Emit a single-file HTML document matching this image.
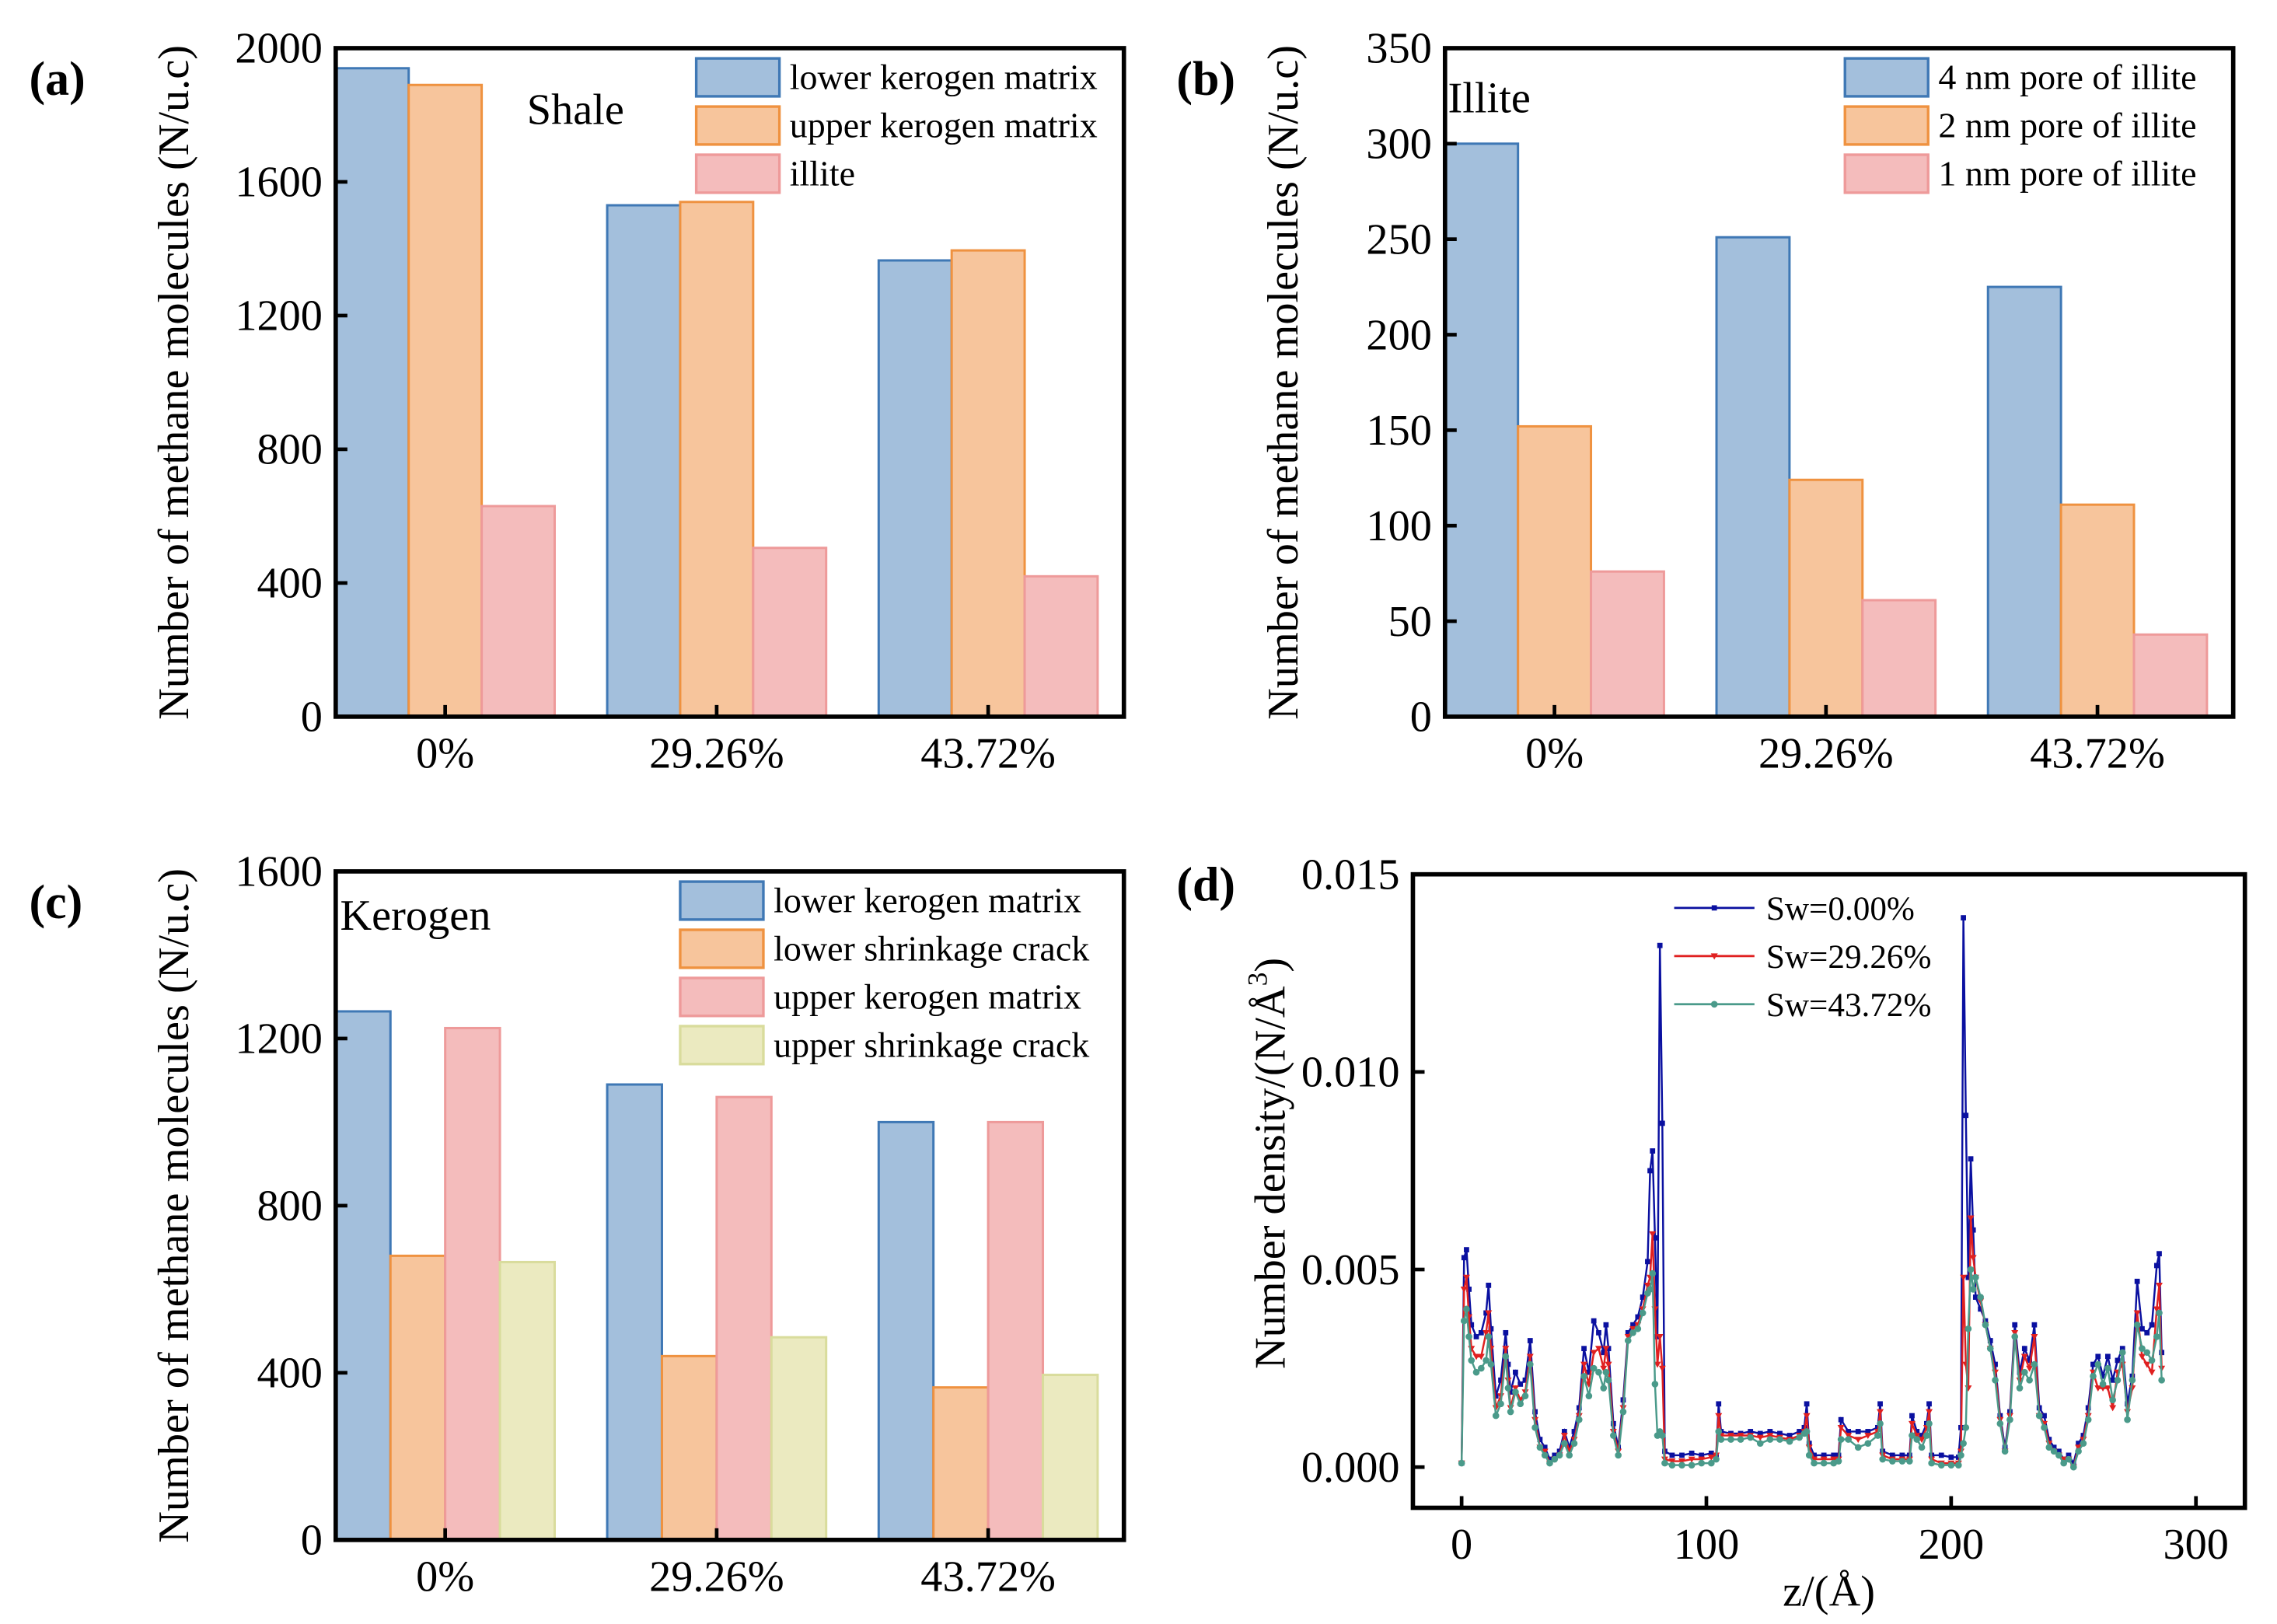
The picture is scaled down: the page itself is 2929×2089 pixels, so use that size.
<!DOCTYPE html>
<html><head><meta charset="utf-8"><style>
html,body{margin:0;padding:0;background:#fff;}
svg{display:block;font-family:"Liberation Serif",serif;}
svg text{font-family:"Liberation Serif",serif;}
</style></head><body>
<svg id="fig" xmlns="http://www.w3.org/2000/svg" width="2929" height="2089" viewBox="0 0 1560 1112.6">
<rect width="1560" height="1112.6" fill="#fff"/>
</svg>
<script>
// ---- Panel data ----
const catLabels = ["0%", "29.26%", "43.72%"];
// (a) Shale
const aLower = [1940, 1530, 1365];
const aUpper = [1890, 1540, 1395];
const aIllite = [630, 505, 420];
const aTicks = [0, 400, 800, 1200, 1600, 2000];
// (b) Illite
const b4nm = [300, 251, 225];
const b2nm = [152, 124, 111];
const b1nm = [76, 61, 43];
const bTicks = [0, 50, 100, 150, 200, 250, 300, 350];
// (c) Kerogen
const cLowerMatrix = [1265, 1090, 1000];
const cLowerCrack = [680, 440, 365];
const cUpperMatrix = [1225, 1060, 1000];
const cUpperCrack = [665, 485, 395];
const cTicks = [0, 400, 800, 1200, 1600];
// (d) density profiles (values x 1e-3 N/Å^3)
const zVals = [0,1,2,3,4,6,8,10,11,12, 14,16,18,19,20,22,24,26,28,30, 32,34,36,38,40,42,44,46,48,50, 52,54,56,58,59,60,62,64,66,68, 70,72,74,76,77,78,79,80,81,82, 83,86,90,94,98,102,104,105,106,110, 114,118,122,126,130,134,138,140,141,142, 144,148,152,154,155,158,162,166,170,171, 172,176,180,183,184,186,188,190,191,192, 196,200,203,204,205,206,207,208,209,210, 212,214,216,218,220,222,224,226,228,230, 232,234,236,238,240,242,244,246,248,250, 252,254,256,258,260,262,264,266,268,270, 272,274,276,278,280,282,284,285,286];
const sw0 = [0.1,5.3,5.5,4.5,3.6,3.3,3.4,3.9,4.6,3.5, 1.8,2.2,3.4,2.6,1.9,2.4,2.1,2.2,3.2,1.4, 0.7,0.5,0.2,0.3,0.4,0.9,0.5,0.9,1.5,3.0, 2.4,3.7,3.4,2.9,3.6,3.0,1.1,0.5,1.7,3.4, 3.6,3.8,4.3,5.2,7.5,8.0,5.8,3.3,13.2,8.7, 0.4,0.3,0.3,0.35,0.3,0.35,0.3,1.6,0.9,0.85, 0.85,0.9,0.85,0.9,0.85,0.8,0.9,1.0,1.6,0.6, 0.3,0.3,0.3,0.3,1.2,0.9,0.9,0.9,1.0,1.6, 0.4,0.3,0.3,0.3,1.3,0.9,0.8,1.1,1.6,0.3, 0.3,0.25,0.25,1.0,13.9,8.9,4.8,7.8,6.0,4.3, 4.0,3.7,3.2,2.6,1.3,0.5,1.4,3.6,2.4,3.0, 2.7,3.6,1.5,1.3,0.7,0.5,0.4,0.2,0.3,0.1, 0.6,0.8,1.5,2.6,2.8,2.3,2.8,2.2,2.7,3.0, 1.6,2.3,4.7,3.5,3.4,3.6,5.1,5.4,2.9];
const sw29 = [0.1,4.5,4.8,3.8,3.0,2.8,2.8,3.4,3.9,3.0, 1.5,1.8,3.0,2.2,1.5,2.0,1.7,1.9,2.8,1.2, 0.5,0.4,0.1,0.2,0.3,0.8,0.4,0.7,1.3,2.6, 2.1,2.9,3.0,2.5,3.0,2.6,0.9,0.4,1.5,3.3, 3.5,3.6,4.0,4.6,4.8,5.9,4.0,2.6,3.3,2.5, 0.2,0.15,0.15,0.2,0.2,0.25,0.3,1.3,0.8,0.8, 0.8,0.8,0.75,0.8,0.75,0.7,0.8,0.9,1.3,0.5, 0.2,0.2,0.2,0.2,1.0,0.8,0.7,0.8,0.9,1.4, 0.3,0.2,0.2,0.2,1.1,0.8,0.7,1.0,1.4,0.2, 0.1,0.1,0.1,0.4,4.8,2.6,2.0,6.3,5.3,4.8, 4.2,3.6,3.0,2.4,1.2,0.4,1.3,3.4,2.2,2.8, 2.5,3.3,1.3,1.1,0.6,0.4,0.3,0.2,0.2,0.0, 0.5,0.7,1.3,2.4,2.0,2.0,2.0,1.5,2.4,2.6, 1.4,2.0,3.9,2.8,2.6,2.4,4.0,4.6,2.5];
const sw43 = [0.1,3.7,4.0,3.3,2.7,2.4,2.5,2.7,3.3,2.6, 1.3,1.6,2.8,2.0,1.4,1.9,1.6,1.8,2.6,1.0, 0.5,0.3,0.1,0.2,0.3,0.6,0.3,0.6,1.2,2.3, 1.8,2.5,2.4,2.0,2.4,2.2,0.8,0.3,1.4,3.2, 3.4,3.5,3.9,4.4,4.5,4.9,2.1,0.8,0.9,0.8, 0.1,0.05,0.05,0.05,0.1,0.1,0.2,0.9,0.7,0.7, 0.7,0.75,0.6,0.7,0.7,0.65,0.75,0.85,0.9,0.3, 0.1,0.1,0.1,0.15,0.7,0.7,0.5,0.6,0.8,1.1, 0.2,0.15,0.15,0.15,0.8,0.7,0.5,0.8,1.1,0.1, 0.05,0.05,0.05,0.3,0.6,1.0,3.5,5.0,4.5,4.8, 4.3,3.6,3.0,2.2,1.1,0.4,1.2,3.3,2.0,2.4, 2.2,2.6,1.3,1.0,0.5,0.4,0.3,0.1,0.2,0.0, 0.4,0.6,1.2,2.3,2.6,2.1,2.5,1.7,2.2,2.9, 1.2,2.2,3.6,3.0,2.9,2.7,3.3,3.9,2.2];
const dYTicks = [0, 5, 10, 15];
const dYTickLabels = ["0.000", "0.005", "0.010", "0.015"];
const dXTicks = [0, 100, 200, 300];

const NS = "http://www.w3.org/2000/svg";
const svg = document.getElementById("fig");
const FF = '"Liberation Serif", serif';
function mk(tag, attrs, parent, text) {
  const e = document.createElementNS(NS, tag);
  for (const k in attrs) e.setAttribute(k, attrs[k]);
  if (tag === "text") e.setAttribute("font-family", FF);
  if (text !== undefined) e.textContent = text;
  (parent || svg).appendChild(e);
  return e;
}
const COL = {
  blue: ["#a3bfdc", "#3f78b5"],
  orange: ["#f7c59c", "#ef9240"],
  pink: ["#f4bcbc", "#ee9a9a"],
  yellow: ["#ebeac0", "#d9dc9c"]
};

function barPanel(o) {
  const g = mk("g", {});
  
  
  const L = o.x0, R = o.x1, T = o.y0, B = o.y1;
  const ys = v => B - (v - o.ymin) / (o.ymax - o.ymin) * (B - T);
  const centers = [305, 491, 677].map(c => c + (L - 230));
  const groupW = 150, bw = groupW / o.series.length;
  o.series.forEach((s, si) => {
    s.vals.forEach((v, ci) => {
      const x = centers[ci] - groupW / 2 + si * bw;
      const r = mk("rect", {x: x, y: ys(v), width: bw, height: B - ys(v), fill: COL[s.col][0], stroke: COL[s.col][1], "stroke-width": 1.6}, g);
      
      
    });
  });
  const box = mk("rect", {x: L, y: T, width: R - L, height: B - T, fill: "none", stroke: "#000", "stroke-width": 3}, g);
  
  
  o.ticks.forEach(t => {
    const y = ys(t);
    mk("line", {x1: L, x2: L + 8, y1: y, y2: y, stroke: "#000", "stroke-width": 2.5}, g);
    const tl = mk("text", {x: L - 9, y: y + 10, "text-anchor": "end", "font-size": 30}, g, String(t));
    
    
  });
  centers.forEach((c, i) => {
    mk("line", {x1: c, x2: c, y1: B, y2: B - 8, stroke: "#000", "stroke-width": 2.5}, g);
    const tl = mk("text", {x: c, y: B + 35, "text-anchor": "middle", "font-size": 30}, g, catLabels[i]);
    
    
  });
  const yt = mk("text", {x: 0, y: 0, "text-anchor": "middle", "font-size": 30, transform: "translate(" + (L - 101) + "," + ((T + B) / 2) + ") rotate(-90)"}, g, "Number of methane molecules (N/u.c)");
  
  
  const pl = mk("text", {x: o.letterX, y: T + 32, "font-size": 33, "font-weight": "bold"}, g, o.letter);
  
  
  const ti = mk("text", {x: o.titleX, y: T + o.titleDy, "font-size": 30}, g, o.title);
  
  
  o.series.forEach((s, si) => {
    const y = T + 7 + si * 33;
    const lr = mk("rect", {x: o.legX, y: y, width: 57, height: 26, fill: COL[s.col][0], stroke: COL[s.col][1], "stroke-width": 1.8}, g);
    
    
    const lt = mk("text", {x: o.legX + 64, y: y + 21, "font-size": 24.5}, g, s.label);
    
    
  });
}

barPanel({name: "panel-a-shale", letter: "(a)", letterX: 20, title: "Shale", titleX: 361, titleDy: 52,
  x0: 230, x1: 770, y0: 33, y1: 491, ymin: 0, ymax: 2000, ticks: aTicks, legX: 477,
  series: [{key: "lower-kerogen", col: "blue", vals: aLower, label: "lower kerogen matrix"},
           {key: "upper-kerogen", col: "orange", vals: aUpper, label: "upper kerogen matrix"},
           {key: "illite", col: "pink", vals: aIllite, label: "illite"}]});
barPanel({name: "panel-b-illite", letter: "(b)", letterX: 806, title: "Illite", titleX: 992, titleDy: 44,
  x0: 990, x1: 1530, y0: 33, y1: 491, ymin: 0, ymax: 350, ticks: bTicks, legX: 1264,
  series: [{key: "4nm", col: "blue", vals: b4nm, label: "4 nm pore of illite"},
           {key: "2nm", col: "orange", vals: b2nm, label: "2 nm pore of illite"},
           {key: "1nm", col: "pink", vals: b1nm, label: "1 nm pore of illite"}]});
barPanel({name: "panel-c-kerogen", letter: "(c)", letterX: 20, title: "Kerogen", titleX: 233, titleDy: 40,
  x0: 230, x1: 770, y0: 597, y1: 1055, ymin: 0, ymax: 1600, ticks: cTicks, legX: 466,
  series: [{key: "lower-matrix", col: "blue", vals: cLowerMatrix, label: "lower kerogen matrix"},
           {key: "lower-crack", col: "orange", vals: cLowerCrack, label: "lower shrinkage crack"},
           {key: "upper-matrix", col: "pink", vals: cUpperMatrix, label: "upper kerogen matrix"},
           {key: "upper-crack", col: "yellow", vals: cUpperCrack, label: "upper shrinkage crack"}]});

// ---- Panel d ----
(function () {
  const g = mk("g", {});
  
  
  const L = 968, R = 1538, T = 599, B = 1033;
  const xmin = -19.9, xmax = 320, ymin = -1.03, ymax = 15;
  const xs = v => L + (v - xmin) / (xmax - xmin) * (R - L);
  const ys = v => B - (v - ymin) / (ymax - ymin) * (B - T);
  const series = [
    {vals: sw0, col: "#0a10a0", mark: "square", label: "Sw=0.00%", key: "sw-0"},
    {vals: sw29, col: "#e02020", mark: "tri", label: "Sw=29.26%", key: "sw-29"},
    {vals: sw43, col: "#4a9a8a", mark: "circle", label: "Sw=43.72%", key: "sw-43"}
  ];
  function marker(m, x, y, col, parent) {
    if (m === "square") return mk("rect", {x: x - 1.8, y: y - 1.8, width: 3.6, height: 3.6, fill: col}, parent);
    if (m === "tri") return mk("path", {d: "M" + (x - 2.4) + " " + (y - 1.8) + "L" + (x + 2.4) + " " + (y - 1.8) + "L" + x + " " + (y + 2.4) + "Z", fill: col}, parent);
    return mk("circle", {cx: x, cy: y, r: 2.3, fill: col}, parent);
  }
  series.forEach(s => {
    const sg = mk("g", {}, g);
    
    
    const pts = zVals.map((z, i) => xs(z).toFixed(2) + "," + ys(s.vals[i]).toFixed(2)).join(" ");
    const pl = mk("polyline", {points: pts, fill: "none", stroke: s.col, "stroke-width": 1.3}, sg);
    
    
    zVals.forEach((z, i) => {
      const p = marker(s.mark, xs(z), ys(s.vals[i]), s.col, sg);
      
      
    });
  });
  const box = mk("rect", {x: L, y: T, width: R - L, height: B - T, fill: "none", stroke: "#000", "stroke-width": 3}, g);
  
  
  dYTicks.forEach((t, i) => {
    const y = ys(t);
    mk("line", {x1: L, x2: L + 8, y1: y, y2: y, stroke: "#000", "stroke-width": 2.5}, g);
    const tl = mk("text", {x: L - 9, y: y + 10, "text-anchor": "end", "font-size": 30}, g, dYTickLabels[i]);
    
    
  });
  dXTicks.forEach(t => {
    const x = xs(t);
    mk("line", {x1: x, x2: x, y1: B, y2: B - 8, stroke: "#000", "stroke-width": 2.5}, g);
    const tl = mk("text", {x: x, y: B + 35, "text-anchor": "middle", "font-size": 30}, g, String(t));
    
    
  });
  const xt = mk("text", {x: 1253, y: 1100, "text-anchor": "middle", "font-size": 30}, g, "z/(Å)");
  
  
  const yt = mk("text", {x: 0, y: 0, "text-anchor": "middle", "font-size": 30, transform: "translate(880,797) rotate(-90)"}, g);
  
  
  mk("tspan", {}, yt, "Number density/(N/Å");
  mk("tspan", {"font-size": 19, dy: -12}, yt, "3");
  mk("tspan", {dy: 12}, yt, ")");
  const pl = mk("text", {x: 806, y: 617, "font-size": 33, "font-weight": "bold"}, g, "(d)");
  
  
  series.forEach((s, i) => {
    const y = 622 + i * 33;
    const ll = mk("line", {x1: 1147, x2: 1202, y1: y, y2: y, stroke: s.col, "stroke-width": 1.5}, g);
    
    
    marker(s.mark, 1174.5, y, s.col, g);
    const lt = mk("text", {x: 1210, y: y + 8, "font-size": 23}, g, s.label);
    
    
  });
})();
</script>
</body></html>
